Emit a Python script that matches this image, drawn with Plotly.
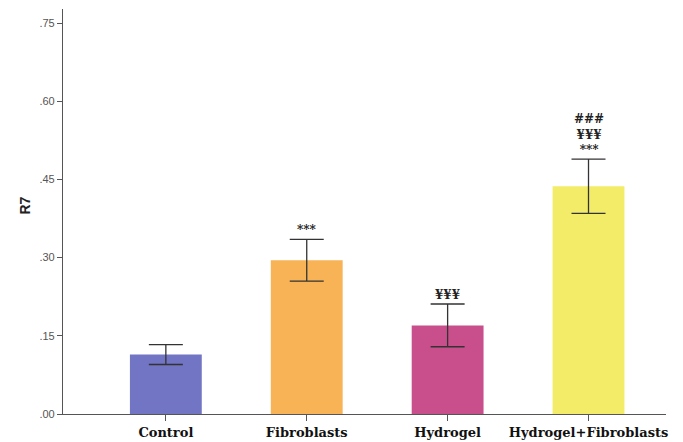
import plotly.graph_objects as go

# Group means and error (± half-width) for R7
groups = ["Control", "Fibroblasts", "Hydrogel", "Hydrogel+Fibroblasts"]
means = [0.114, 0.295, 0.170, 0.437]
errors = [0.019, 0.040, 0.041, 0.052]
colors = ["#7275c3", "#f7b355", "#c94f8c", "#f2ec68"]

# Significance marks shown above each error bar (lines listed top to bottom)
sig_marks = [[], ["***"], ["¥¥¥"], ["###", "¥¥¥", "***"]]

tick_vals = [0.0, 0.15, 0.30, 0.45, 0.60, 0.75]
tick_text = [".00", ".15", ".30", ".45", ".60", ".75"]

fig = go.Figure()
fig.add_trace(go.Bar(
    x=list(range(len(groups))),
    y=means,
    width=0.51,
    marker=dict(color=colors, line=dict(width=0)),
    error_y=dict(type="data", array=errors, visible=True,
                 color="#333333", thickness=1.3, width=17),
    showlegend=False,
))

for i, (m, e, marks) in enumerate(zip(means, errors, sig_marks)):
    if not marks:
        continue
    fig.add_annotation(
        x=i, y=m + e, yref="y", xref="x",
        text="<br>".join(f"<b>{s}</b>" for s in marks),
        showarrow=False, yanchor="bottom", yshift=0,
        font=dict(family="DejaVu Serif", size=12, color="#222222"),
        align="center",
    )

fig.update_layout(
    width=683, height=442,
    margin=dict(l=63, r=17, t=9, b=28),
    plot_bgcolor="white", paper_bgcolor="white",
)
fig.update_xaxes(
    range=[-0.73, 3.55], automargin=False,
    tickvals=list(range(len(groups))),
    ticktext=[f"<b>{g}</b>" for g in groups],
    showline=True, linecolor="#555555", linewidth=1.2,
    ticks="outside", ticklen=6, tickcolor="#555555",
    showgrid=False, zeroline=False,
    tickfont=dict(family="DejaVu Serif", size=13, color="#111111"),
)
fig.update_yaxes(
    range=[0, 0.777], automargin=False,
    tickvals=tick_vals, ticktext=tick_text,
    showline=True, linecolor="#555555", linewidth=1.2,
    ticks="outside", ticklen=5, tickcolor="#555555",
    showgrid=False, zeroline=False,
    tickfont=dict(family="Liberation Sans", size=11, color="#555555"),
)
# Rotated axis title placed beside the tick labels
fig.add_annotation(
    text="<b>R7</b>", xref="paper", x=(25 - 63) / (683 - 63 - 17),
    xanchor="center", y=0.40, yref="y", yanchor="middle",
    showarrow=False, textangle=-90,
    font=dict(family="Liberation Sans", size=14, color="#222222"),
)

fig.write_html("out.html")
